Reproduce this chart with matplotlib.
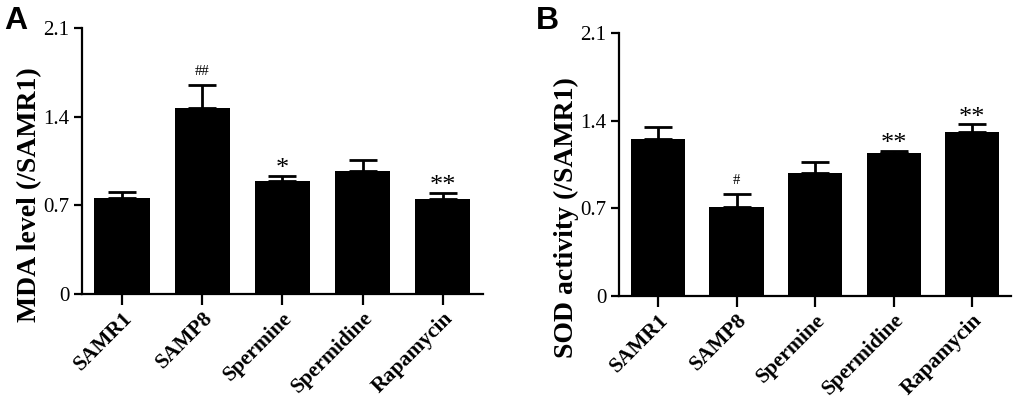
import numpy as np
import matplotlib
matplotlib.use("Agg")
import matplotlib.pyplot as plt

groups = ["SAMR1", "SAMP8", "Spermine", "Spermidine", "Rapamycin"]
mda_mean = [0.757, 1.468, 0.89, 0.97, 0.75]
mda_err = [0.045, 0.185, 0.04, 0.09, 0.045]
mda_marks = ["", "##", "*", "", "**"]
sod_mean = [1.253, 0.709, 0.986, 1.14, 1.311]
sod_err = [0.10, 0.11, 0.083, 0.022, 0.06]
sod_marks = ["", "#", "", "**", "**"]
yticks = [0, 0.7, 1.4, 2.1]
ytick_labels = ["0", "0.7", "1.4", "2.1"]

plt.rcParams['font.family'] = ['Liberation Serif', 'DejaVu Serif']

fig = plt.figure(figsize=(10.2, 4.04), dpi=100)
axA = fig.add_axes([0.0804, 0.272, 0.393, 0.659])
axB = fig.add_axes([0.6066, 0.267, 0.385, 0.651])


def panel(ax, mean, err, marks, ylabel, label_y):
    x = np.arange(len(groups))
    ax.bar(x, mean, width=0.69, color='black', zorder=2)
    ax.errorbar(x, mean, yerr=[np.zeros(len(mean)), err], fmt='none',
                ecolor='black', elinewidth=2, capsize=10, capthick=2, zorder=1)
    for xi, m, e, s in zip(x, mean, err, marks):
        if not s:
            continue
        if '#' in s:
            ax.annotate(s, (xi, m + e), xytext=(0, 5), textcoords='offset points',
                        ha='center', va='bottom', fontsize=10.5)
        else:
            ax.annotate(s, (xi, m + e), xytext=(0, -3), textcoords='offset points',
                        ha='center', va='bottom', fontsize=19)
    ax.set_xlim(-0.5, 4.5)
    ax.set_ylim(0, 2.1)
    ax.set_yticks(yticks)
    ax.set_yticklabels(ytick_labels, fontsize=15)
    ax.set_xticks(x)
    ax.set_xticklabels(groups, rotation=45, ha='right', rotation_mode='anchor',
                       fontsize=15.5, fontweight='bold')
    ax.set_ylabel(ylabel, fontsize=20, fontweight='bold')
    ax.yaxis.set_label_coords(-0.10, label_y)
    for sp in ['top', 'right']:
        ax.spines[sp].set_visible(False)
    for sp in ['left', 'bottom']:
        ax.spines[sp].set_linewidth(1.6)
    ax.tick_params(axis='y', direction='out', length=6, width=1.6, pad=3)
    ax.tick_params(axis='x', direction='out', length=8, width=1.6, pad=2)


panel(axA, mda_mean, mda_err, mda_marks, "MDA level (/SAMR1)", 0.372)
panel(axB, sod_mean, sod_err, sod_marks, "SOD activity (/SAMR1)", 0.30)

fig.text(0.004, 0.985, "A", fontsize=23, fontweight='bold', family='Liberation Sans',
         ha='left', va='top')
fig.text(0.525, 0.985, "B", fontsize=23, fontweight='bold', family='Liberation Sans',
         ha='left', va='top')

fig.savefig("out.png", dpi=100)
